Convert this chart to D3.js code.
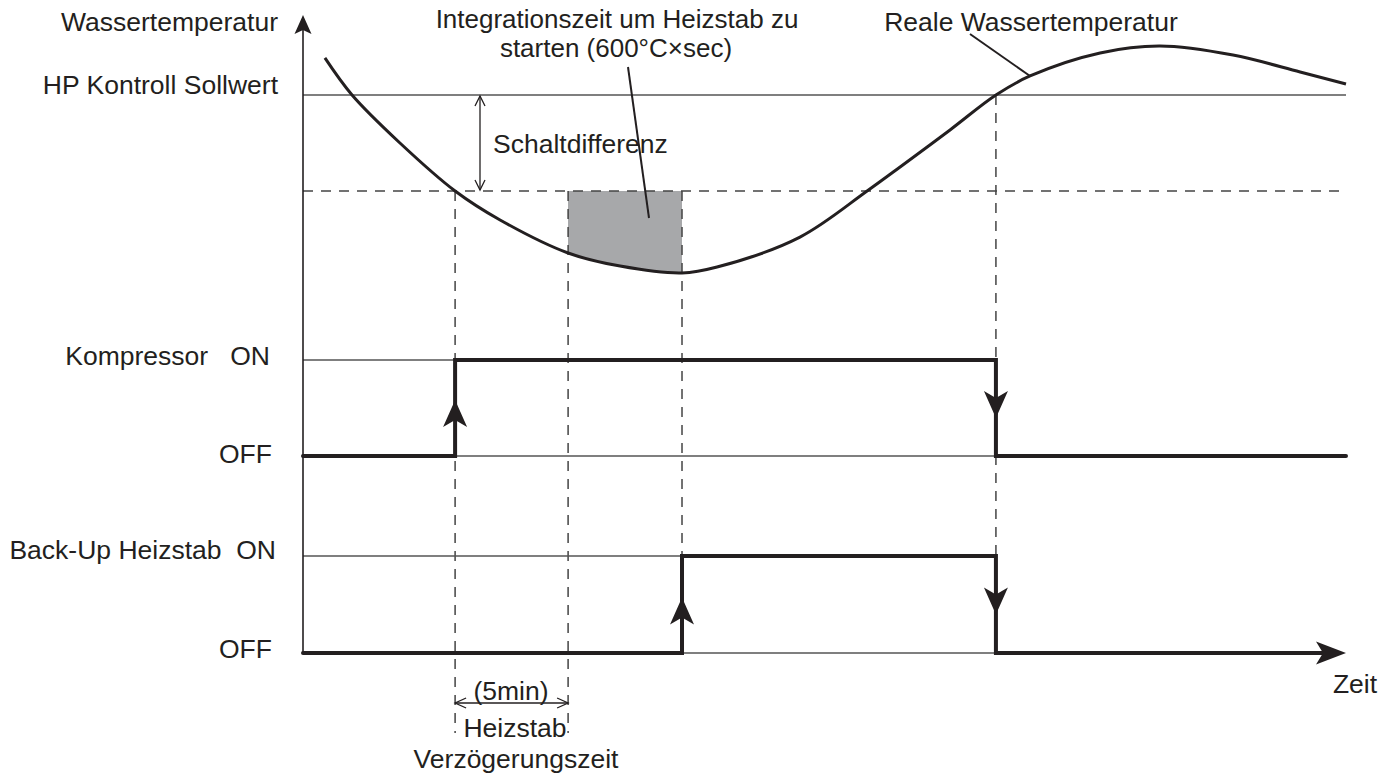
<!DOCTYPE html>
<html>
<head>
<meta charset="utf-8">
<script src="https://cdn.jsdelivr.net/npm/d3@7"></script>
<style>
  body { margin: 0; background: #fff; }
  text { font-family: "Liberation Sans", Arial, sans-serif; font-size: 26.5px; fill: #231f20; white-space: pre; }
</style>
</head>
<body>
<svg width="1394" height="774"></svg>
<script>
// time in minutes, temperature in °C
const curveTime = [0.97, 2.17, 4.29, 6.73, 8.72, 11.73, 14.03, 16.77, 18.32, 21.99, 24.96, 26.42, 28.63, 30.66, 32.17, 35.27, 37.92, 41.15, 44.12, 46.15];
const curveTemp = [51.93, 50.0, 47.5, 45.0, 43.49, 41.77, 41.09, 40.73, 41.04, 42.6, 45.0, 46.25, 48.18, 50.0, 50.99, 52.19, 52.55, 52.08, 51.2, 50.57];

const setpoint = 50;
const diff = 5;
const delay = 5;                 // Heizstab Verzögerungszeit
const tCompOn = 6.73;
const tHeatOn = 16.77;
const tOff = 30.66;
const tEnd = 46.15;

const compTimes = [0, tCompOn, tOff, tEnd];
const compState = [0, 1, 0, 0];
const heatTimes = [0, tHeatOn, tOff, tEnd - 1];
const heatState = [0, 1, 0, 0];

const svg = d3.select('svg');
const ink = '#231f20';

const x = d3.scaleLinear().domain([0, tEnd]).range([303, 1346]);
const y = d3.scaleLinear().domain([40, 53]).range([287, 37.4]);
const yComp = d3.scaleLinear().domain([0, 1]).range([456, 360]);
const yHeat = d3.scaleLinear().domain([0, 1]).range([653, 556]);

const pts = curveTime.map((t, i) => ({t: t, v: curveTemp[i]}));

// notched arrow head: tip at (tx,ty), dir in radians
function arrowHead(tx, ty, dir, len, half, notch) {
  const c = Math.cos(dir), s = Math.sin(dir);
  const p = (a, b) => [tx - a * c - b * -s, ty - a * s - b * c];
  const pts = [p(0, 0), p(len, half), p(len - notch, 0), p(len, -half)];
  svg.append('path')
     .attr('d', 'M' + pts.map(q => q.join(',')).join('L') + 'Z')
     .attr('fill', ink);
}

function openHead(tx, ty, dir, len, half) {
  const c = Math.cos(dir), s = Math.sin(dir);
  const p = (a, b) => [tx - a * c - b * -s, ty - a * s - b * c];
  svg.append('path')
     .attr('d', `M${p(len, half)}L${p(0, 0)}L${p(len, -half)}`)
     .attr('fill', 'none').attr('stroke', ink).attr('stroke-width', 1.3);
}

// grey integration area
svg.append('clipPath').attr('id', 'integ')
   .append('rect')
   .attr('x', x(tCompOn + delay)).attr('y', 0)
   .attr('width', x(tHeatOn) - x(tCompOn + delay)).attr('height', 774);

svg.append('path')
   .datum(pts)
   .attr('clip-path', 'url(#integ)')
   .attr('fill', '#a7a8aa')
   .attr('d', d3.area().curve(d3.curveCatmullRom)
      .x(d => x(d.t)).y0(y(setpoint - diff)).y1(d => y(d.v)));

// setpoint + switch-on level
svg.append('line')
   .attr('x1', x(0)).attr('x2', x(tEnd))
   .attr('y1', y(setpoint)).attr('y2', y(setpoint))
   .attr('stroke', '#555').attr('stroke-width', 1.5);

svg.append('line')
   .attr('x1', x(0)).attr('x2', x(tEnd) - 7)
   .attr('y1', y(setpoint - diff)).attr('y2', y(setpoint - diff))
   .attr('stroke', '#444').attr('stroke-width', 1.5)
   .attr('stroke-dasharray', '10,8');

// vertical dashed guides
const guides = [
  {t: tCompOn, y1: y(setpoint - diff), y2: 733},
  {t: tCompOn + delay, y1: y(setpoint - diff), y2: 733},
  {t: tHeatOn, y1: y(setpoint - diff), y2: yHeat(1)},
  {t: tOff, y1: y(setpoint), y2: yHeat(1)}
];
svg.selectAll('.guide').data(guides).enter().append('line')
   .attr('class', 'guide')
   .attr('x1', d => x(d.t)).attr('x2', d => x(d.t))
   .attr('y1', d => d.y1).attr('y2', d => d.y2)
   .attr('stroke', '#444').attr('stroke-width', 1.5)
   .attr('stroke-dasharray', '10,8');

// thin on/off reference lines
[yComp(1), yComp(0), yHeat(1), yHeat(0)].forEach(yy => {
  svg.append('line')
     .attr('x1', x(0)).attr('x2', x(tOff))
     .attr('y1', yy).attr('y2', yy)
     .attr('stroke', '#555').attr('stroke-width', 1.5);
});

// y axis
svg.append('line')
   .attr('x1', x(0)).attr('x2', x(0))
   .attr('y1', 30).attr('y2', yHeat(0))
   .attr('stroke', ink).attr('stroke-width', 1.6);
arrowHead(x(0), 15, -Math.PI / 2, 19, 8.5, 4);

// water temperature curve
svg.append('path')
   .datum(pts)
   .attr('fill', 'none')
   .attr('stroke', ink).attr('stroke-width', 3)
   .attr('d', d3.line().curve(d3.curveCatmullRom).x(d => x(d.t)).y(d => y(d.v)));

// step signals
const step = (times, states) => times.map((t, i) => ({t: t, s: states[i]}));
const stepLine = ys => d3.line().curve(d3.curveStepAfter).x(d => x(d.t)).y(d => ys(d.s));

svg.append('path')
   .datum(step(compTimes, compState))
   .attr('d', stepLine(yComp))
   .attr('fill', 'none').attr('stroke', ink).attr('stroke-width', 4)
   .attr('stroke-linecap', 'round');

svg.append('path')
   .datum(step(heatTimes, heatState))
   .attr('d', stepLine(yHeat))
   .attr('fill', 'none').attr('stroke', ink).attr('stroke-width', 4)
   .attr('stroke-linecap', 'round');

// transition arrows
const mid = ys => (ys(0) + ys(1)) / 2;
arrowHead(x(tCompOn), mid(yComp) - 8, -Math.PI / 2, 27, 12, 7);
arrowHead(x(tOff), mid(yComp) + 10, Math.PI / 2, 27, 12, 7);
arrowHead(x(tHeatOn), mid(yHeat) - 7, -Math.PI / 2, 27, 12, 7);
arrowHead(x(tOff), mid(yHeat) + 10, Math.PI / 2, 27, 12, 7);
// time axis arrow
arrowHead(x(tEnd), yHeat(0), 0, 30, 11.5, 7);

// Schaltdifferenz dimension
svg.append('line')
   .attr('x1', 480).attr('x2', 480)
   .attr('y1', y(setpoint) + 1).attr('y2', y(setpoint - diff) - 1)
   .attr('stroke', ink).attr('stroke-width', 1.3);
openHead(480, y(setpoint) + 1, -Math.PI / 2, 10, 5);
openHead(480, y(setpoint - diff) - 1, Math.PI / 2, 10, 5);

// 5 min dimension
svg.append('line')
   .attr('x1', x(tCompOn)).attr('x2', x(tCompOn + delay))
   .attr('y1', 703).attr('y2', 703)
   .attr('stroke', ink).attr('stroke-width', 1.3);
openHead(x(tCompOn), 703, Math.PI, 11, 5);
openHead(x(tCompOn + delay), 703, 0, 11, 5);

// leader lines
svg.append('line').attr('x1', 628).attr('y1', 67).attr('x2', 649).attr('y2', 218)
   .attr('stroke', ink).attr('stroke-width', 2);
svg.append('line').attr('x1', 970).attr('y1', 34).attr('x2', 1030).attr('y2', 76)
   .attr('stroke', ink).attr('stroke-width', 2);

// labels
const labels = [
  {t: 'Wassertemperatur', x: 278, y: 31, a: 'end'},
  {t: 'HP Kontroll Sollwert', x: 278, y: 94, a: 'end'},
  {t: 'Kompressor   ON', x: 270, y: 365, a: 'end'},
  {t: 'OFF', x: 272, y: 463, a: 'end'},
  {t: 'Back-Up Heizstab  ON', x: 276, y: 559, a: 'end'},
  {t: 'OFF', x: 272, y: 658, a: 'end'},
  {t: 'Integrationszeit um Heizstab zu', x: 617, y: 28, a: 'middle', s: 26},
  {t: 'starten (600°C×sec)', x: 616, y: 57, a: 'middle', s: 26},
  {t: 'Reale Wassertemperatur', x: 1031, y: 31, a: 'middle'},
  {t: 'Schaltdifferenz', x: 493, y: 153, a: 'start'},
  {t: '(5min)', x: 511, y: 700, a: 'middle'},
  {t: 'Heizstab', x: 515, y: 737, a: 'middle'},
  {t: 'Verzögerungszeit', x: 516, y: 768, a: 'middle'},
  {t: 'Zeit', x: 1355, y: 693, a: 'middle'}
];
svg.selectAll('.lbl').data(labels).enter().append('text')
   .attr('class', 'lbl')
   .attr('x', d => d.x).attr('y', d => d.y)
   .attr('text-anchor', d => d.a)
   .style('font-size', d => d.s ? d.s + 'px' : null)
   .text(d => d.t);
</script>
</body>
</html>
